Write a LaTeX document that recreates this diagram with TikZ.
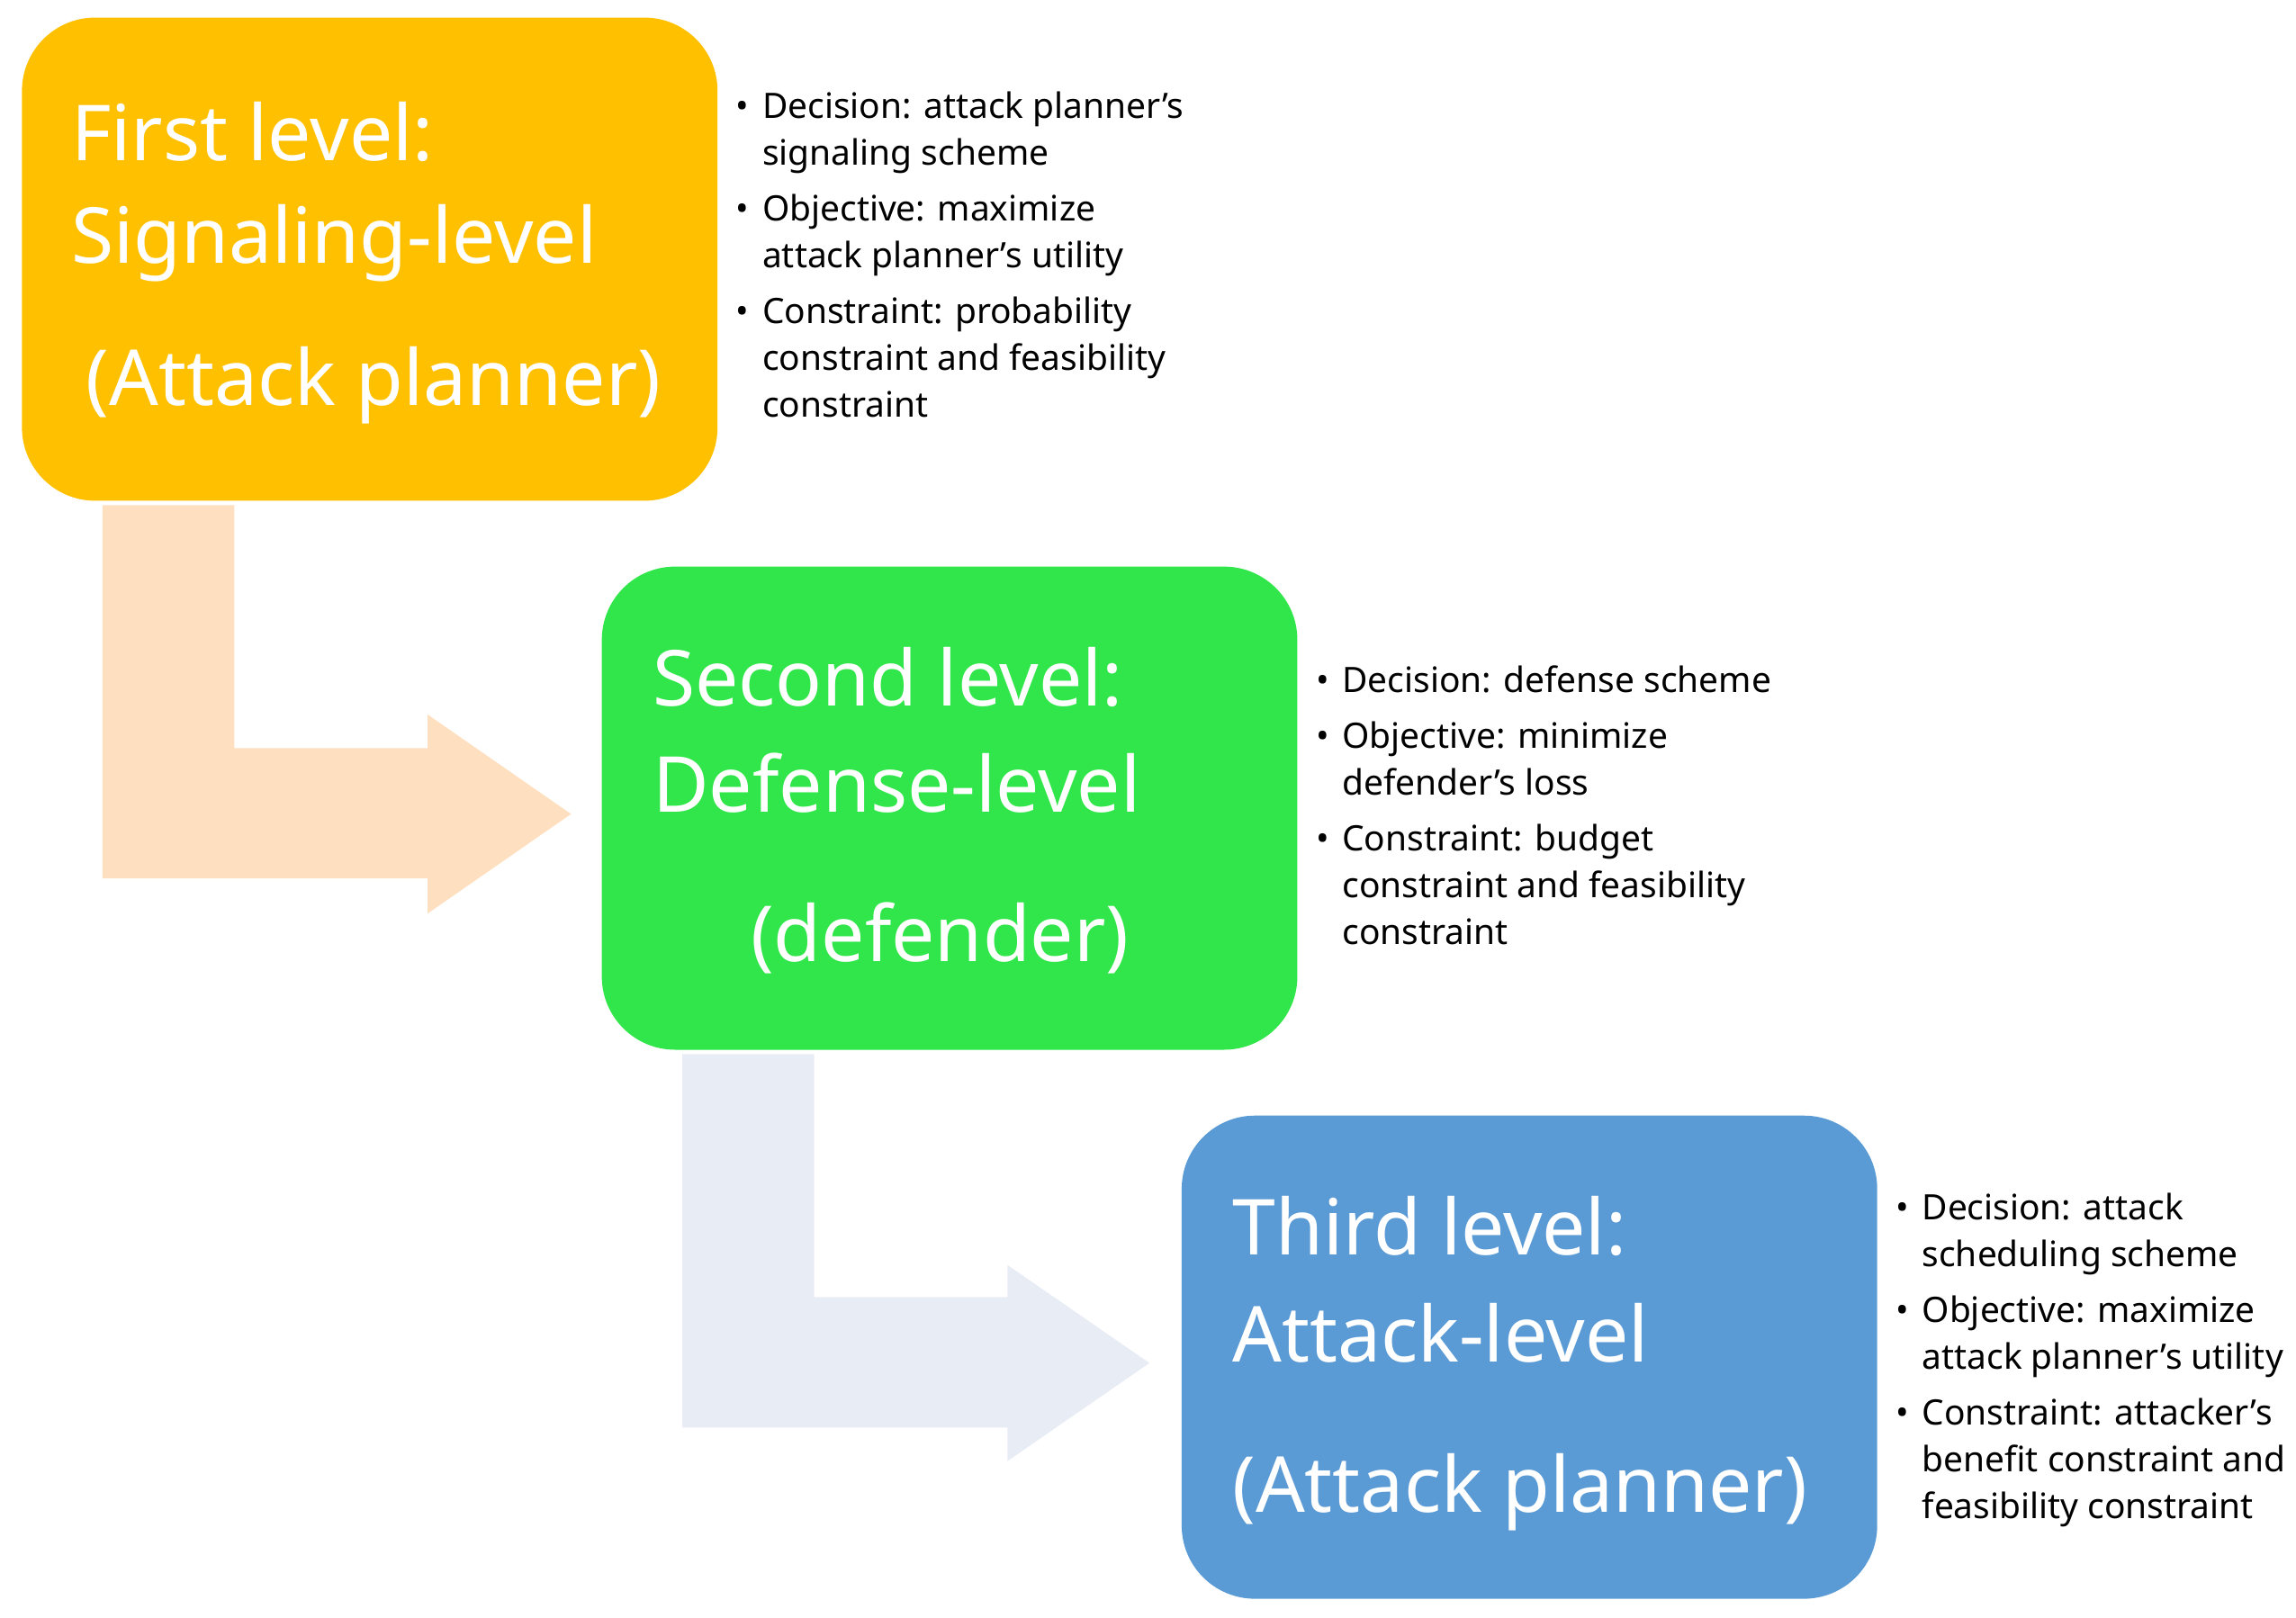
\documentclass[tikz,border=0pt]{standalone}
\usepackage{fontspec}
\setmainfont{Noto Sans}
\begin{document}
\begin{tikzpicture}[x=0.01cm,y=-0.01cm,
  box/.style={rounded corners=0.5cm,inner sep=0},
  title/.style={anchor=base west,text=white,font=\fontsize{15}{18}\selectfont,inner sep=0},
  bl/.style={anchor=base west,font=\fontsize{6.8}{8}\selectfont,inner sep=0},
  dot/.style={anchor=base west,font=\fontsize{6.8}{8}\selectfont,inner sep=0}]
\useasboundingbox (0,0) rectangle (1568,1105);
\definecolor{c1}{HTML}{FFC000}\definecolor{c2}{HTML}{31E64A}\definecolor{c3}{HTML}{5B9BD5}
\definecolor{a1}{HTML}{FEE0C0}\definecolor{a2}{HTML}{E8ECF5}
% arrows
\fill[a1] (70,345) -- (160,345) -- (160,511) -- (292,511) -- (292,488) -- (390,556) -- (292,624) -- (292,600) -- (70,600) -- cycle;
\fill[a2] (466,720) -- (556,720) -- (556,886) -- (688,886) -- (688,864) -- (785,931) -- (688,998) -- (688,975) -- (466,975) -- cycle;
% boxes
\fill[c1,box] (15,12) rectangle (490,342);
\fill[c2,box] (411,387) rectangle (886,717);
\fill[c3,box] (807,762) rectangle (1282,1092);
\node[box,minimum width=0.01cm] (b1) at (252,177) {};
\node[box] (b2) at (648,552) {};
\node[box] (b3) at (1044,927) {};
% titles
\node[title] (t11) at (48,110) {First level:};
\node[title] (t12) at (48,180) {Signaling-level};
\node[title] (t13) at (58,277) {(Attack planner)};
\node[title] (t21) at (445,482) {Second level:};
\node[title] (t22) at (445,555) {Defense-level};
\node[title] (t23) at (512,657) {(defender)};
\node[title] (t31) at (841,857) {Third level:};
\node[title] (t32) at (841,930) {Attack-level};
\node[title] (t33) at (841,1033) {(Attack planner)};
% bullets 1
\foreach \y in {81,151,221} \node[dot] at (502,\y) {\textbullet};
\node[bl] (d1) at (520,81) {\textbf{Decision:} attack planner's};
\node[bl] (d1b) at (520,113) {signaling scheme};
\node[bl] (o1) at (520,151) {\textbf{Objective:} maximize};
\node[bl] (o1b) at (520,183) {attack planner's utility};
\node[bl] (c1a) at (520,221) {\textbf{Constraint:} probability};
\node[bl] (c1b) at (520,253) {constraint and feasibility};
\node[bl] (c1c) at (520,285) {constraint};
% bullets 2
\foreach \y in {473,511,581} \node[dot] at (898,\y) {\textbullet};
\node[bl] (d2) at (916,473) {\textbf{Decision:} defense scheme};
\node[bl] (o2) at (916,511) {\textbf{Objective:} minimize};
\node[bl] (o2b) at (916,543) {defender's loss};
\node[bl] (c2a) at (916,581) {\textbf{Constraint:} budget};
\node[bl] (c2b) at (916,613) {constraint and feasibility};
\node[bl] (c2c) at (916,645) {constraint};
% bullets 3
\foreach \y in {833,903,973} \node[dot] at (1294,\y) {\textbullet};
\node[bl] (d3) at (1312,833) {\textbf{Decision:} attack};
\node[bl] (d3b) at (1312,865) {scheduling scheme};
\node[bl] (o3) at (1312,903) {\textbf{Objective:} maximize};
\node[bl] (o3b) at (1312,935) {attack planner’s utility};
\node[bl] (c3a) at (1312,973) {\textbf{Constraint:} attacker's};
\node[bl] (c3b) at (1312,1005) {benefit constraint and};
\node[bl] (c3c) at (1312,1037) {feasibility constraint};
\end{tikzpicture}
\end{document}
